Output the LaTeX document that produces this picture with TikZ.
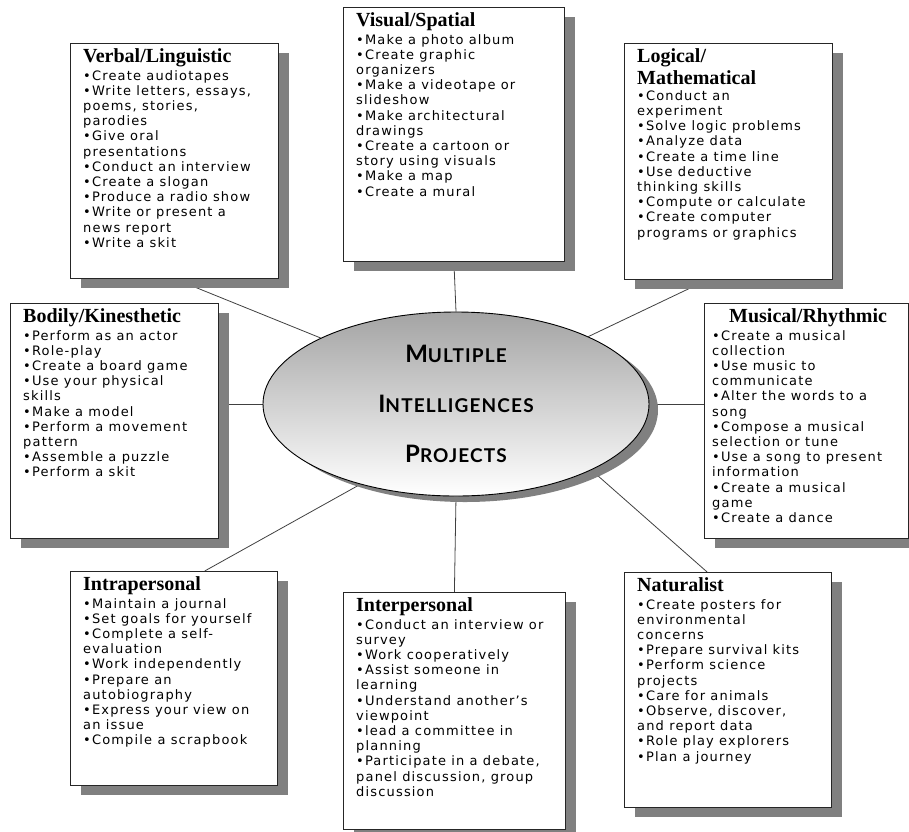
\documentclass[tikz,border=0pt]{standalone}
\usepackage{fontspec}
\usetikzlibrary{positioning,shadows,backgrounds,shapes.geometric}
\newfontfamily\bodyfont[LetterSpace=9]{DejaVu Sans}
\newfontfamily\headfont{Liberation Serif}
\newfontfamily\titlefont[LetterSpace=6]{Lato}
\definecolor{BoxShade}{HTML}{808080}
\definecolor{OvalTop}{HTML}{A4A4A4}
\definecolor{Spoke}{HTML}{404040}
\newcommand\mihead[1]{{\headfont\bfseries\fontsize{20}{20}\selectfont #1}}
\newcommand\misc[2]{#1{\fontsize{19}{50}\selectfont #2}}
\tikzset{
  mibox/.style={draw=black!85,line width=.8pt,fill=white,inner sep=0pt,anchor=north west,
    drop shadow={shadow xshift=11pt,shadow yshift=-10pt,fill=BoxShade,opacity=1}},
  mitext/.style={inner sep=0pt,align=left,font=\bodyfont\fontsize{13}{15.2}\selectfont},
  spoke/.style={draw=Spoke,line width=.8pt}
}
\begin{document}
\begin{tikzpicture}[x=1pt,y=-1pt]
  \useasboundingbox (0,0) rectangle (909,831);
  % boxes
  \node[mibox,minimum width=208pt,minimum height=235pt] (verbal) at (70,43) {};
  \node[mibox,minimum width=221pt,minimum height=254pt] (visual) at (343,7) {};
  \node[mibox,minimum width=208pt,minimum height=236pt] (logical) at (624,43) {};
  \node[mibox,minimum width=208pt,minimum height=235pt] (bodily) at (10,303) {};
  \node[mibox,minimum width=204pt,minimum height=235pt] (musical) at (704,303) {};
  \node[mibox,minimum width=207pt,minimum height=214pt] (intra) at (70,571) {};
  \node[mibox,minimum width=222pt,minimum height=237pt] (inter) at (343,592) {};
  \node[mibox,minimum width=207pt,minimum height=235pt] (natural) at (624,572) {};
  % centre oval
  \node[ellipse,draw=black,line width=.9pt,minimum width=386pt,minimum height=184pt,inner sep=0pt,
    top color=OvalTop,bottom color=white,
    drop shadow={shadow xshift=9pt,shadow yshift=-6pt,fill=BoxShade,opacity=1},
    align=center,font=\titlefont\bfseries\fontsize{24}{50}\selectfont] (mi) at (456,404)
    {\misc{M}{ULTIPLE}\\\misc{I}{NTELLIGENCES}\\\misc{P}{ROJECTS}};
  % texts
  \node[mitext,below right=5pt and 13pt of verbal.north west] (verbaltxt) {\mihead{Verbal/Linguistic}\\[2.8pt]
    •Create audiotapes\\•Write letters, essays,\\poems, stories,\\parodies\\•Give oral\\presentations\\
    •Conduct an interview\\•Create a slogan\\•Produce a radio show\\•Write or present a\\news report\\•Write a skit};
  \node[mitext,below right=5pt and 13pt of visual.north west] (visualtxt) {\mihead{Visual/Spatial}\\[2.8pt]
    •Make a photo album\\•Create graphic\\organizers\\•Make a videotape or\\slideshow\\•Make architectural\\
    drawings\\•Create a cartoon or\\story using visuals\\•Make a map\\•Create a mural};
  \node[mitext,below right=5pt and 13pt of logical.north west] (logicaltxt) {\mihead{Logical/}\\[2.8pt]\mihead{Mathematical}\\[1pt]
    •Conduct an\\experiment\\•Solve logic problems\\•Analyze data\\•Create a time line\\•Use deductive\\
    thinking skills\\•Compute or calculate\\•Create computer\\programs or graphics};
  \node[mitext,below right=5pt and 13pt of bodily.north west] (bodilytxt) {\mihead{Bodily/Kinesthetic}\\[2.8pt]
    •Perform as an actor\\•Role-play\\•Create a board game\\•Use your physical\\skills\\•Make a model\\
    •Perform a movement\\pattern\\•Assemble a puzzle\\•Perform a skit};
  \node[mitext,below right=5pt and 8pt of musical.north west] (musicaltxt) {\hspace*{17pt}\mihead{Musical/Rhythmic}\\[2.8pt]
    •Create a musical\\collection\\•Use music to\\communicate\\•Alter the words to a\\song\\•Compose a musical\\
    selection or tune\\•Use a song to present\\information\\•Create a musical\\game\\•Create a dance};
  \node[mitext,below right=5pt and 13pt of intra.north west] (intratxt) {\mihead{Intrapersonal}\\[2.8pt]
    •Maintain a journal\\•Set goals for yourself\\•Complete a self-\\evaluation\\•Work independently\\
    •Prepare an\\autobiography\\•Express your view on\\an issue\\•Compile a scrapbook};
  \node[mitext,below right=5pt and 13pt of inter.north west] (intertxt) {\mihead{Interpersonal}\\[2.8pt]
    •Conduct an interview or\\survey\\•Work cooperatively\\•Assist someone in\\learning\\•Understand another’s\\
    viewpoint\\•lead a committee in\\planning\\•Participate in a debate,\\panel discussion, group\\discussion};
  \node[mitext,below right=5pt and 13pt of natural.north west] (naturaltxt) {\mihead{Naturalist}\\[2.8pt]
    •Create posters for\\environmental\\concerns\\•Prepare survival kits\\•Perform science\\projects\\
    •Care for animals\\•Observe, discover,\\and report data\\•Role play explorers\\•Plan a journey};
  % spokes
  \begin{scope}[on background layer]
    \draw[spoke] (verbal.south) -- (mi.154);
    \draw[spoke] (visual.south) -- (mi.north);
    \draw[spoke] (logical.260) -- (mi.27);
    \draw[spoke] (mi.west) -- (mi.west -| bodily.east);
    \draw[spoke] (mi.east) -- (mi.east -| musical.west);
    \draw[spoke] (intra.74) -- (mi.220);
    \draw[spoke] (mi.south) -- (inter.north);
    \draw[spoke] (natural.100) -- (mi.334);
  \end{scope}
\end{tikzpicture}
\end{document}
